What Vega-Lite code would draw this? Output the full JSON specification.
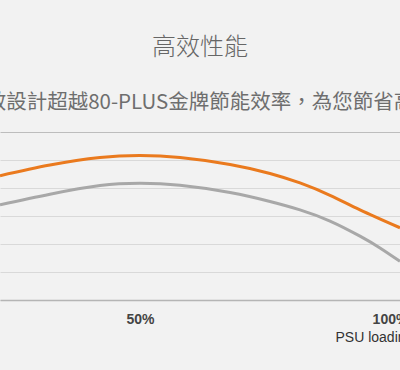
{
  "$schema": "https://vega.github.io/schema/vega-lite/v6.json",
  "width": 400,
  "height": 168,
  "autosize": "none",
  "padding": {"top": 132, "left": 0, "right": 0, "bottom": 70},
  "background": "#f2f2f2",
  "title": {
    "text": "高效性能",
    "subtitle": "高效設計超越80-PLUS金牌節能效率，為您節省高額",
    "anchor": "middle",
    "font": "Noto Sans CJK TC",
    "fontSize": 24,
    "fontWeight": 300,
    "color": "#666666",
    "subtitleFont": "Noto Sans CJK TC",
    "subtitleFontSize": 20.5,
    "subtitleFontWeight": 400,
    "subtitleColor": "#6e6e6e",
    "subtitlePadding": 33,
    "offset": 19
  },
  "data": {
    "values": [
      {"load": 22, "eff": 92.2, "series": "gold+"},
      {"load": 32, "eff": 94.1, "series": "gold+"},
      {"load": 42, "eff": 95.45, "series": "gold+"},
      {"load": 50, "eff": 95.8, "series": "gold+"},
      {"load": 58, "eff": 95.45, "series": "gold+"},
      {"load": 68, "eff": 94.2, "series": "gold+"},
      {"load": 76, "eff": 92.6, "series": "gold+"},
      {"load": 82, "eff": 90.9, "series": "gold+"},
      {"load": 88, "eff": 88.7, "series": "gold+"},
      {"load": 94, "eff": 86.1, "series": "gold+"},
      {"load": 102, "eff": 82.9, "series": "gold+"},
      {"load": 22, "eff": 87.0, "series": "gold"},
      {"load": 32, "eff": 88.9, "series": "gold"},
      {"load": 42, "eff": 90.45, "series": "gold"},
      {"load": 50, "eff": 90.85, "series": "gold"},
      {"load": 58, "eff": 90.5, "series": "gold"},
      {"load": 68, "eff": 89.2, "series": "gold"},
      {"load": 76, "eff": 87.6, "series": "gold"},
      {"load": 82, "eff": 86.1, "series": "gold"},
      {"load": 88, "eff": 84.1, "series": "gold"},
      {"load": 94, "eff": 81.4, "series": "gold"},
      {"load": 98, "eff": 79.3, "series": "gold"},
      {"load": 102, "eff": 76.9, "series": "gold"}
    ]
  },
  "mark": {"type": "line", "interpolate": "natural", "strokeWidth": 3, "clip": true},
  "encoding": {
    "x": {
      "field": "load",
      "type": "quantitative",
      "scale": {"domain": [22, 102], "nice": false, "zero": false},
      "axis": {
        "values": [50, 100],
        "labelExpr": "datum.value + '%'",
        "grid": false,
        "ticks": false,
        "domain": true,
        "domainColor": "#b5b5b5",
        "domainWidth": 1.5,
        "labelFont": "Liberation Sans",
        "labelFontSize": 14,
        "labelFontWeight": "bold",
        "labelColor": "#444444",
        "labelPadding": 12,
        "labelFlush": false,
        "title": "PSU loading",
        "titleFont": "Liberation Sans",
        "titleFontSize": 14,
        "titleFontWeight": "normal",
        "titleColor": "#333333",
        "titleAnchor": "start",
        "titleAlign": "left",
        "titleX": 335,
        "titleY": 30
      }
    },
    "y": {
      "field": "eff",
      "type": "quantitative",
      "scale": {"domain": [70, 100], "nice": false, "zero": false},
      "axis": {
        "values": [70, 75, 80, 85, 90, 95, 100],
        "labels": false,
        "ticks": false,
        "domain": false,
        "title": null,
        "grid": true,
        "gridColor": {"condition": {"test": "datum.value == 100", "value": "#bdbdbd"}, "value": "#d9d9d9"},
        "gridWidth": 1.2
      }
    },
    "color": {
      "field": "series",
      "type": "nominal",
      "scale": {"domain": ["gold+", "gold"], "range": ["#ea7a1e", "#a8a8a8"]},
      "legend": null
    }
  },
  "config": {"view": {"stroke": null}}
}
